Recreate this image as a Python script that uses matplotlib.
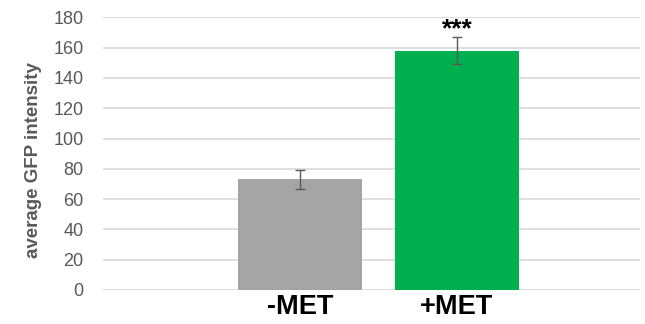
import matplotlib.pyplot as plt

plt.rcParams['font.family'] = ['Liberation Sans', 'DejaVu Sans']

# Data
categories = ["-MET", "+MET"]
values = [73.0, 157.8]
errors = [6.2, 8.9]
colors = ["#A5A5A5", "#00B050"]
significance = ["", "***"]

fig = plt.figure(figsize=(6.45, 3.24), dpi=100)
ax = fig.add_axes([103 / 645, 1 - 290 / 324, (640 - 103) / 645, (290 - 17.3) / 324])

x = list(range(len(categories)))
ax.bar(x, values, width=0.79, color=colors, zorder=2)
ax.errorbar(x, values, yerr=errors, fmt="none", ecolor="#595959",
            elinewidth=1.0, capsize=3.6, capthick=1.0, zorder=3)

for xi, v, e, s in zip(x, values, errors, significance):
    if s:
        ax.text(xi, v + e + 1, s, ha="center", va="baseline", fontsize=19,
                fontweight="bold", color="black")

ax.set_xlim(-1.255, 2.166)
ax.set_ylim(0, 180)
ax.set_yticks(range(0, 181, 20))
ax.set_xticks(x)
ax.set_xticklabels(categories, fontsize=19.5, fontweight="bold")
ax.tick_params(axis="x", length=0, pad=3)
ax.tick_params(axis="y", length=0, labelsize=13, labelcolor="#595959", pad=14)

ax.grid(axis="y", color="#D9D9D9", linewidth=1.2, zorder=0)
for sp in ax.spines.values():
    sp.set_visible(False)

ax.set_ylabel("average GFP intensity", fontsize=13.5, fontweight="bold",
              color="#595959")
ax.yaxis.set_label_coords(-0.114, 0.477)

fig.savefig("out.png", dpi=100)
